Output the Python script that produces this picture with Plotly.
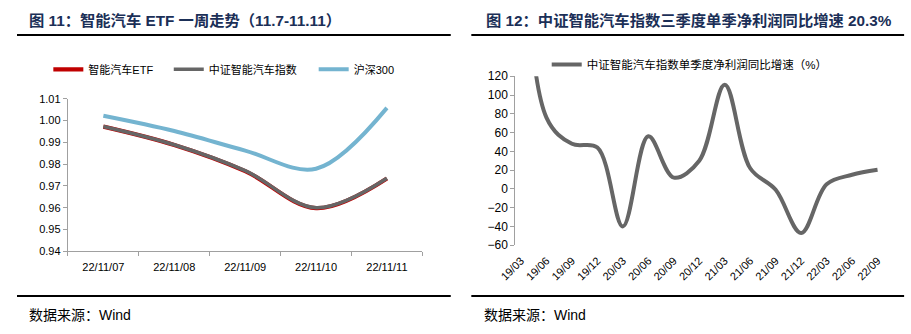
import plotly.graph_objects as go

W, H = 911, 334

# ---------------- data ----------------
days = ["22/11/07", "22/11/08", "22/11/09", "22/11/10", "22/11/11"]
etf = [0.9972, 0.9888, 0.9768, 0.9598, 0.9734]
index_line = [0.9973, 0.9889, 0.9770, 0.9600, 0.9735]
hs300 = [1.0022, 0.9952, 0.9862, 0.9779, 1.0058]

quarters = ["19/03", "19/06", "19/09", "19/12", "20/03", "20/06", "20/09", "20/12",
            "21/03", "21/06", "21/09", "21/12", "22/03", "22/06", "22/09"]
growth = [380, 76, 48, 44, -40, 56, 12, 30, 111, 22, -1, -47, 5, 15, 20.3]

left_yticks = [0.94, 0.95, 0.96, 0.97, 0.98, 0.99, 1.00, 1.01]
right_yticks = [-60, -40, -20, 0, 20, 40, 60, 80, 100, 120]

title_left = "图 11：智能汽车 ETF 一周走势（11.7-11.11）"
title_right = "图 12：中证智能汽车指数三季度单季净利润同比增速 20.3%"
source_text = "数据来源：Wind"

# ---------------- helpers ----------------
def px(x):
    return x / W

def py(y):
    return 1 - y / H

FONT = "Liberation Sans, Arial, Noto Sans CJK SC, sans-serif"
AXIS_COLOR = "#A0A0A0"

fig = go.Figure()

# left chart traces (each in its own legend so the entries can be placed like the original)
fig.add_trace(go.Scatter(x=days, y=etf, name="智能汽车ETF", mode="lines",
                         line=dict(color="#C00000", width=4.2, shape="spline"),
                         xaxis="x", yaxis="y", legend="legend"))
fig.add_trace(go.Scatter(x=days, y=index_line, name="中证智能汽车指数", mode="lines",
                         line=dict(color="#666666", width=3.6, shape="spline"),
                         xaxis="x", yaxis="y", legend="legend3"))
fig.add_trace(go.Scatter(x=days, y=hs300, name="沪深300", mode="lines",
                         line=dict(color="#74B4D0", width=4, shape="spline"),
                         xaxis="x", yaxis="y", legend="legend4"))

# right chart trace
qx = list(range(len(quarters)))
fig.add_trace(go.Scatter(x=qx, y=growth, name="中证智能汽车指数单季度净利润同比增速（%）",
                         mode="lines",
                         line=dict(color="#666666", width=4, shape="spline"),
                         xaxis="x2", yaxis="y2", legend="legend2"))

# domains
lx = [px(52), px(414)]
ly = [py(255), py(95.7)]
rx = [px(509), px(882)]
ry = [py(248.6), py(72.3)]

r_lo, r_hi = -60, 120
zero_pos = ry[0] + (ry[1] - ry[0]) * (0 - r_lo) / (r_hi - r_lo)
x2_range = [-0.22, 14.12]

tickfont = dict(family=FONT, size=11, color="#000000")
legfont = dict(family=FONT, size=11, color="#000000")


def leg(x_text, y):
    return dict(orientation="h", x=px(x_text - 53), y=py(y), xanchor="left", yanchor="middle",
                font=legfont, bgcolor="rgba(0,0,0,0)", itemwidth=30)


fig.update_layout(
    width=W, height=H, autosize=False,
    margin=dict(l=0, r=0, t=0, b=0),
    paper_bgcolor="white", plot_bgcolor="white",
    font=dict(family=FONT, size=11, color="#000000"),
    xaxis=dict(domain=lx, anchor="y", type="category", range=[-0.5, 4.5],
               tickson="boundaries", ticks="outside", ticklen=4, tickcolor=AXIS_COLOR,
               showline=True, linecolor=AXIS_COLOR, linewidth=1.3, showgrid=False,
               zeroline=False, tickfont=tickfont, ticklabelstandoff=5),
    yaxis=dict(domain=ly, anchor="x", range=[0.94, 1.01], tickvals=left_yticks,
               tickformat=".2f", ticks="outside", ticklen=4, tickcolor=AXIS_COLOR,
               showline=True, linecolor=AXIS_COLOR, linewidth=1.3, showgrid=False,
               zeroline=False, tickfont=tickfont),
    xaxis2=dict(domain=rx, anchor="y2", range=x2_range, tickvals=qx, ticktext=quarters,
                tickangle=-45, ticks="", showline=False, showgrid=False, zeroline=False,
                tickfont=tickfont, ticklabelstandoff=6),
    xaxis3=dict(domain=rx, anchor="free", overlaying="x2", position=zero_pos,
                range=x2_range, tickvals=[k - 0.22 for k in qx], ticks="outside",
                ticklen=4, tickcolor=AXIS_COLOR, showticklabels=False,
                showline=True, linecolor=AXIS_COLOR, linewidth=1.3,
                showgrid=False, zeroline=False),
    yaxis2=dict(domain=ry, anchor="x2", range=[r_lo, r_hi], tickvals=right_yticks,
                ticks="outside", ticklen=4, tickcolor=AXIS_COLOR,
                showline=True, linecolor=AXIS_COLOR, linewidth=1.3, showgrid=False,
                zeroline=False, tickfont=dict(family=FONT, size=12, color="#000000")),
    legend=leg(85, 65),
    legend3=leg(208, 65),
    legend4=leg(356, 65),
    legend2=dict(orientation="h", x=px(587 - 46), y=py(60), xanchor="left", yanchor="middle",
                 font=dict(family=FONT, size=11.5, color="#000000"),
                 bgcolor="rgba(0,0,0,0)", itemwidth=30),
    showlegend=True,
)

# titles
title_font = dict(family=FONT, size=15.3, color="#1B2F57")
fig.add_annotation(x=px(10), y=py(14), xref="paper", yref="paper", text="<b>" + title_left + "</b>",
                   showarrow=False, xanchor="left", yanchor="middle", font=title_font)
fig.add_annotation(x=px(477), y=py(14), xref="paper", yref="paper", text="<b>" + title_right + "</b>",
                   showarrow=False, xanchor="left", yanchor="middle", font=title_font)

# source texts
src_font = dict(family=FONT, size=14, color="#000000")
fig.add_annotation(x=px(10), y=py(321), xref="paper", yref="paper", text=source_text,
                   showarrow=False, xanchor="left", yanchor="middle", font=src_font)
fig.add_annotation(x=px(475), y=py(321), xref="paper", yref="paper", text=source_text,
                   showarrow=False, xanchor="left", yanchor="middle", font=src_font)

# separator lines
for x0, x1 in [(0, 443), (464, 906)]:
    for yy in (29.3, 301.7):
        fig.add_shape(type="line", xref="paper", yref="paper",
                      x0=px(x0), x1=px(x1), y0=py(yy), y1=py(yy),
                      line=dict(color="#000000", width=2))

fig.write_html("out.html")
